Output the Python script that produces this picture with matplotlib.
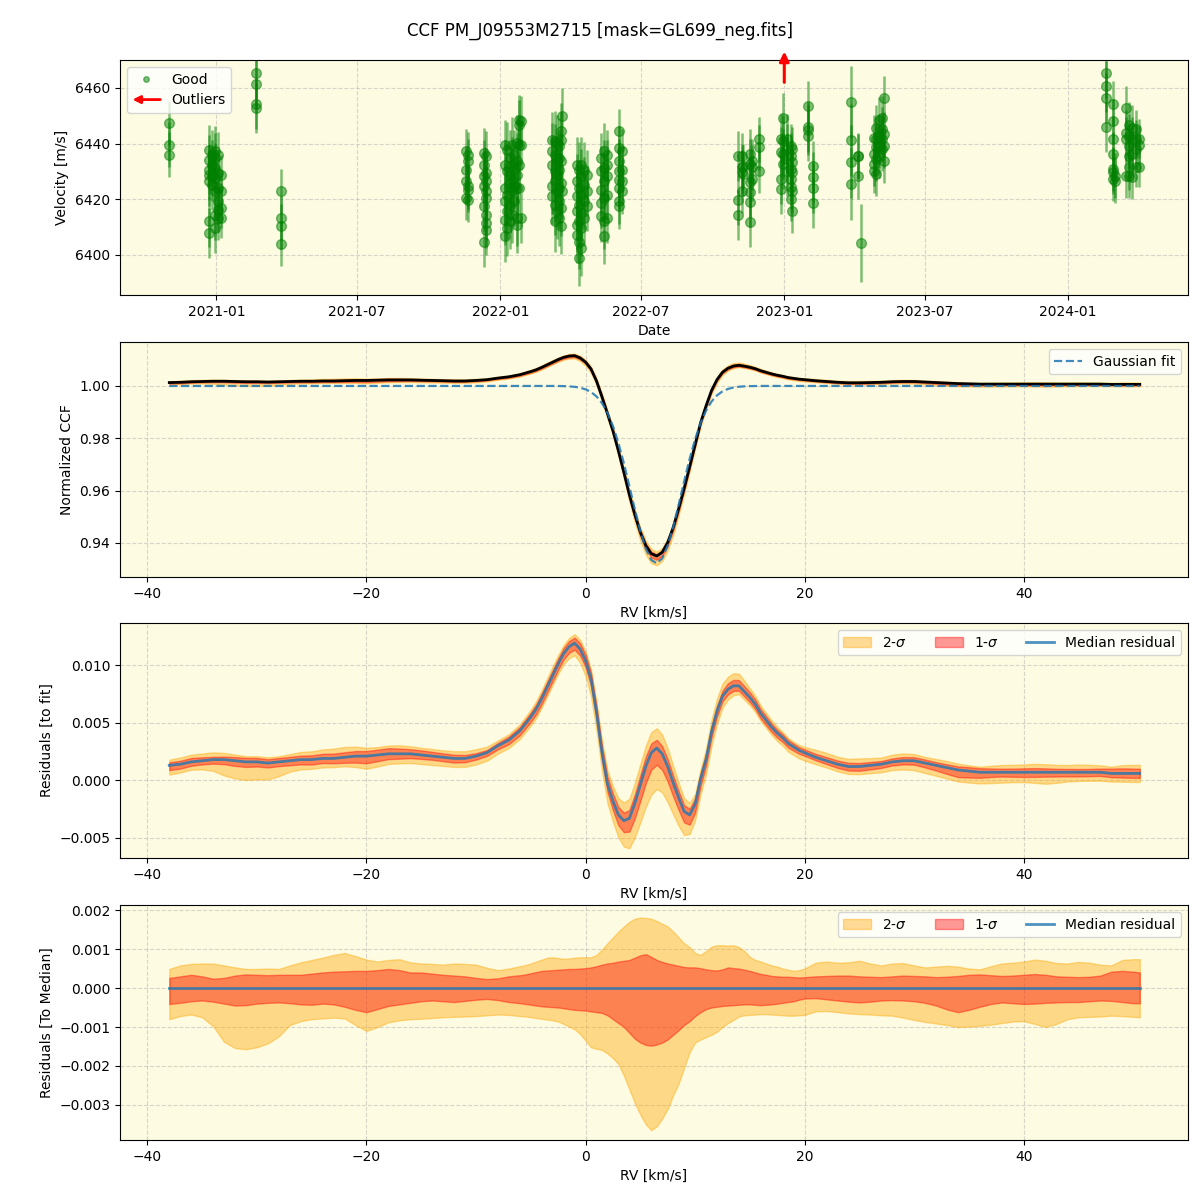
import numpy as np
import matplotlib
matplotlib.use("Agg")
import matplotlib.pyplot as plt
import matplotlib.dates as mdates
from matplotlib.lines import Line2D
from matplotlib.patches import Patch, FancyArrowPatch
from matplotlib.legend_handler import HandlerBase

# ---------------- Panel 1 data: RV time series (per night) ----------------
NIGHTS = ['2020-11-01', '2020-12-23', '2020-12-26', '2020-12-30', '2021-01-03', '2021-01-07',
          '2021-02-21', '2021-03-25', '2021-11-18', '2021-11-21', '2021-12-11', '2021-12-14',
          '2022-01-07', '2022-01-10', '2022-01-13', '2022-01-16', '2022-01-19', '2022-01-22',
          '2022-01-25', '2022-01-27', '2022-03-09', '2022-03-12', '2022-03-15', '2022-03-18',
          '2022-03-20', '2022-03-21', '2022-04-09', '2022-04-12', '2022-04-15', '2022-04-18',
          '2022-04-22', '2022-05-10', '2022-05-14', '2022-05-18', '2022-06-03', '2022-06-06',
          '2022-11-03', '2022-11-07', '2022-11-09', '2022-11-18', '2022-11-21', '2022-11-29',
          '2022-12-28', '2022-12-30', '2023-01-05', '2023-01-09', '2023-01-11', '2023-01-31',
          '2023-02-07', '2023-03-28', '2023-04-06', '2023-04-10', '2023-04-26', '2023-04-29',
          '2023-05-03', '2023-05-06', '2023-05-09', '2024-02-19', '2024-02-27', '2024-03-01',
          '2024-03-15', '2024-03-19', '2024-03-23', '2024-03-28', '2024-04-01']
NIGHT_VELOCITIES = [
    [6447.4, 6439.6, 6436.0],
    [6437.8, 6434.2, 6430.6, 6428.8, 6426.4, 6412.0, 6407.8],
    [6436.0, 6432.4, 6428.2, 6425.2],
    [6437.2, 6434.8, 6431.2, 6427.6, 6422.8, 6414.4, 6409.6],
    [6436.0, 6429.4, 6424.0, 6419.2, 6416.2, 6413.2],
    [6428.8, 6422.8, 6416.8, 6413.2],
    [6465.4, 6461.4, 6454.2, 6452.8],
    [6422.8, 6413.2, 6410.2, 6404.0],
    [6437.2, 6430.6, 6426.4, 6420.4],
    [6436.0, 6433.6, 6424.6, 6423.4, 6419.8],
    [6436.6, 6432.4, 6428.2, 6424.6, 6417.4, 6404.8],
    [6435.4, 6429.4, 6426.4, 6422.8, 6420.4, 6414.4, 6411.4, 6409.0],
    [6439.6, 6432.4, 6424.0, 6419.2, 6412.6, 6406.6],
    [6437.8, 6430.0, 6421.6, 6415.6, 6409.6],
    [6434.8, 6428.8, 6425.8, 6418.0, 6412.0],
    [6439.6, 6432.4, 6427.0, 6422.8, 6414.4],
    [6436.0, 6430.6, 6424.6, 6419.2],
    [6440.2, 6433.6, 6428.8, 6424.0, 6413.2, 6410.8],
    [6448.6, 6446.8, 6439.6, 6432.4, 6424.0],
    [6448.0, 6439.6, 6413.2],
    [6441.4, 6437.2, 6432.4, 6424.6, 6421.0],
    [6440.8, 6436.0, 6430.0, 6426.4, 6418.0, 6412.0],
    [6440.2, 6433.6, 6428.8, 6422.8, 6415.6],
    [6439.0, 6434.8, 6430.6, 6424.0, 6419.2, 6413.2],
    [6444.4, 6441.4, 6433.6, 6425.8, 6416.8, 6410.2],
    [6450.0, 6422.8],
    [6432.4, 6426.4, 6421.0, 6415.6, 6410.8, 6407.2],
    [6430.6, 6424.0, 6418.0, 6412.0, 6404.8, 6398.8],
    [6432.4, 6428.2, 6421.6, 6415.0, 6409.6, 6402.4],
    [6430.6, 6425.2, 6419.2, 6413.2],
    [6428.8, 6422.8, 6417.4],
    [6434.8, 6430.0, 6423.4, 6418.6, 6413.8],
    [6437.2, 6431.2, 6426.4, 6420.4, 6412.0, 6406.8],
    [6436.0, 6432.4, 6428.2, 6421.6, 6413.2],
    [6444.4, 6438.4, 6433.6, 6430.0, 6427.0, 6424.0, 6419.2, 6417.4],
    [6437.2, 6430.6, 6426.4, 6422.8],
    [6435.6, 6419.6, 6414.3],
    [6435.6, 6431.4, 6429.7, 6423.1],
    [6432.0, 6429.1],
    [6436.2, 6432.6, 6426.1, 6422.6, 6419.0, 6411.9],
    [6433.8, 6431.4, 6427.3],
    [6441.5, 6438.6, 6430.3],
    [6441.5, 6436.8, 6427.3, 6423.7],
    [6449.0, 6440.9, 6436.2, 6432.6],
    [6441.5, 6438.0, 6434.4, 6430.3],
    [6439.1, 6435.6, 6430.9, 6427.3, 6424.3, 6420.2],
    [6438.0, 6433.2, 6429.7, 6423.1, 6415.7],
    [6453.4, 6446.0, 6444.8, 6442.7],
    [6431.8, 6427.9, 6424.0, 6418.8],
    [6454.9, 6441.2, 6433.5, 6425.5],
    [6435.6, 6435.4, 6428.2],
    [6404.2],
    [6442.1, 6436.2, 6432.6, 6430.3],
    [6445.7, 6441.5, 6438.6, 6434.4, 6429.1],
    [6448.6, 6442.7, 6439.1, 6435.6],
    [6449.2, 6445.1, 6441.5, 6438.0],
    [6456.3, 6443.3, 6439.1, 6433.8],
    [6465.2, 6460.5, 6456.3, 6446.0],
    [6454.3, 6448.0, 6441.7, 6436.2, 6430.8, 6429.7, 6427.3],
    [6428.5, 6426.7],
    [6452.8, 6443.9, 6441.5, 6428.5],
    [6446.8, 6442.7, 6439.1, 6435.6, 6431.4, 6428.5],
    [6445.7, 6441.5, 6436.2, 6427.9],
    [6445.1, 6441.5, 6438.0, 6431.4],
    [6441.7, 6439.4, 6431.4],
]
NIGHT_ERRORS = [8, 9, 9, 9, 8, 7, 9, 8, 8, 8, 9, 9, 9, 10, 10, 10, 9, 10, 9, 9,
                10, 11, 10, 10, 10, 10, 10, 10, 10, 10, 9, 9, 10, 9, 8, 8,
                9, 8, 8, 9, 8, 8, 9, 9, 9, 8, 8, 9, 9, 13, 8, 14, 8, 8, 8, 8, 8,
                9, 8, 8, 8, 8, 8, 7, 7]
OUTLIER_DATES = ['2023-01-01']

# ---------------- CCF panels data ----------------
RV_KMS = np.concatenate([np.arange(-38.0, -5.5, 1.0),
                         np.arange(-5.5, 20.0, 0.5),
                         np.arange(20.0, 50.5, 1.0),
                         [50.6]])

GAUSS_FIT = np.array([1.0] * 33 +
    [1.0, 1.0, 1.0, 1.0, 1.0, 1.0, 0.99999,
     0.99993, 0.99984, 0.99966, 0.99932, 0.99872, 0.99768, 0.99600, 0.99344, 0.98973, 0.98468,
     0.97820, 0.97043, 0.96174, 0.95282, 0.94451, 0.93779, 0.93350, 0.93221, 0.93413, 0.93897,
     0.94608, 0.95458, 0.96352, 0.97207, 0.97960, 0.98580, 0.99058, 0.99403, 0.99640, 0.99793,
     0.99886, 0.99941, 0.99970, 0.99986, 0.99994, 0.99998,
     1.0, 1.0, 1.0, 1.0, 1.0, 1.0, 1.0, 1.0] +
    [1.0] * 32)

# median residual (units of 1e-4)
MEDIAN_RESID_E4 = np.array([
    13, 14, 16, 17, 18, 18, 17, 16, 16, 15,
    16, 17, 18, 18, 19, 19, 20, 21, 21, 22,
    23, 23, 23, 22, 21, 20, 19, 19, 21, 24,
    30, 35, 43,
    49, 55, 62, 71, 81, 91, 101, 110, 116, 119,
    114, 104, 88, 59, 24, -3, -18, -30, -35, -33,
    -20, -4, 12, 24, 28, 23, 12, -2, -15, -27,
    -30, -21, 1, 18, 42, 60, 73, 79, 82, 82,
    77, 72, 66, 58, 52, 46, 41, 37, 32, 29,
    26,
    24, 20, 17, 14, 12, 12, 13, 14, 16, 17,
    17, 15, 13, 11, 9, 8, 7, 7, 7, 7,
    7, 7, 7, 7, 7, 7, 7, 7, 6, 6,
    6, 6], dtype=float)

# spread of the CCF residuals around the median (units of 1e-4)
SIG2_HI_E4 = np.array([
    4.9, 5.8, 6.2, 6.3, 6.3, 5.8, 5.3, 4.9, 4.9, 5.0,
    4.9, 5.8, 6.6, 7.2, 7.8, 8.5, 9.0, 8.2, 7.3, 6.8,
    7.2, 7.4, 6.6, 6.3, 6.2, 6.0, 6.3, 6.2, 6.0, 5.2,
    4.6, 5.0, 5.6,
    5.9, 6.3, 6.8, 7.3, 7.8, 7.9, 7.7, 7.5, 7.6, 7.8,
    7.9, 7.9, 7.9, 8.5, 9.9, 11.5, 13.0, 14.5, 15.8, 17.0,
    17.8, 18.1, 18.0, 17.8, 17.2, 16.5, 15.8, 14.5, 13.0, 11.5,
    10.5, 9.0, 8.5, 9.5, 10.6, 11.0, 11.0, 10.9, 11.0, 10.5,
    9.5, 8.0, 7.2, 6.8, 6.3, 5.8, 5.5, 5.0, 4.7, 4.4,
    4.6,
    5.0, 6.5, 6.8, 6.5, 6.6, 7.0, 6.3, 5.8, 6.3, 6.4,
    5.8, 5.3, 5.5, 5.7, 5.5, 5.0, 4.8, 5.6, 6.3, 6.5,
    6.8, 7.3, 7.0, 6.4, 6.3, 6.7, 6.5, 6.0, 5.8, 7.2,
    7.4, 7.4])
SIG1_HI_E4 = np.array([
    2.6, 3.0, 3.4, 3.0, 2.4, 2.6, 3.2, 3.5, 3.4, 3.3,
    3.4, 3.4, 3.4, 3.7, 4.0, 4.2, 4.3, 4.4, 4.4, 4.6,
    4.9, 4.6, 4.0, 4.0, 3.7, 3.4, 3.2, 3.0, 2.6, 2.3,
    2.5, 3.0, 3.3,
    3.5, 3.8, 4.1, 4.4, 4.5, 4.6, 4.7, 4.8, 4.9, 4.9,
    5.0, 5.1, 5.3, 5.6, 6.0, 6.3, 6.5, 6.8, 7.0, 7.2,
    7.8, 8.4, 8.7, 8.0, 7.2, 6.7, 6.3, 6.0, 5.7, 5.4,
    5.3, 5.3, 5.1, 4.8, 4.6, 4.5, 4.8, 5.3, 5.1, 5.0,
    4.7, 4.4, 4.0, 3.6, 3.4, 3.1, 3.0, 2.9, 2.9, 2.8,
    2.7,
    2.8, 3.0, 3.1, 3.2, 3.2, 3.0, 2.9, 2.8, 3.0, 3.2,
    3.1, 3.0, 2.8, 2.9, 3.1, 3.4, 3.5, 3.3, 3.1, 3.2,
    3.4, 3.6, 3.4, 3.0, 2.9, 2.8, 2.9, 3.2, 4.2, 4.4,
    4.2, 4.0])
SIG1_LO_E4 = np.array([
    -4.1, -3.8, -3.4, -3.2, -3.5, -4.0, -4.5, -4.4, -4.0, -3.8,
    -3.7, -3.9, -4.2, -4.3, -4.0, -4.2, -4.8, -5.6, -6.2, -5.4,
    -4.6, -4.2, -3.8, -3.4, -3.2, -3.4, -3.6, -3.3, -3.0, -2.8,
    -3.1, -3.6, -3.9,
    -4.1, -4.3, -4.5, -4.7, -4.8, -4.9, -5.0, -5.2, -5.4, -5.6,
    -5.7, -5.8, -6.0, -6.2, -6.4, -7.0, -8.0, -9.0, -10.0, -11.5,
    -13.0, -14.0, -14.6, -14.8, -14.5, -14.0, -13.2, -12.0, -10.8, -9.5,
    -8.5, -7.2, -6.2, -5.4, -5.0, -4.8, -4.6, -4.5, -4.4, -4.3,
    -4.2, -4.2, -4.3, -4.4, -4.3, -4.2, -4.0, -3.8, -3.6, -3.4,
    -3.0,
    -2.7, -2.6, -2.9, -3.2, -3.5, -3.7, -3.5, -3.2, -3.1, -3.2,
    -3.4, -3.8, -4.5, -5.5, -6.2, -5.6, -4.8, -4.1, -3.7, -3.9,
    -4.1, -4.0, -3.8, -3.7, -3.6, -3.6, -3.4, -3.2, -3.3, -3.6,
    -3.9, -3.9])
SIG2_LO_E4 = np.array([
    -8.0, -7.2, -6.8, -7.5, -9.8, -13.8, -15.4, -15.7, -15.2, -14.2,
    -12.4, -9.5, -8.5, -8.0, -7.8, -7.6, -7.8, -9.5, -11.0, -10.0,
    -8.8, -8.3, -8.0, -7.9, -7.7, -7.5, -7.4, -7.3, -7.2, -7.0,
    -6.8, -6.9, -7.2,
    -7.3, -7.5, -7.7, -7.9, -8.1, -8.3, -8.6, -9.2, -9.9, -10.6,
    -11.8, -13.5, -15.2, -15.6, -15.9, -16.8, -18.0, -19.5, -22.5, -26.0,
    -29.5, -32.5, -35.0, -36.5, -35.5, -33.5, -31.0, -27.5, -24.5, -20.5,
    -16.5, -14.0, -13.2, -12.6, -12.0, -11.2, -10.0, -9.0, -8.2, -7.3,
    -7.0, -6.9, -6.8, -6.7, -6.7, -6.8, -6.9, -7.0, -7.1, -7.1,
    -7.0,
    -6.9, -6.0, -5.9, -6.2, -6.5, -6.7, -6.8, -7.0, -7.1, -7.6,
    -8.2, -8.7, -9.1, -9.5, -10.0, -9.9, -9.7, -9.4, -9.0, -8.6,
    -8.5, -9.2, -10.0, -9.2, -8.0, -7.5, -7.4, -7.3, -7.1, -7.2,
    -7.4, -7.5])

# ---------------- derived ----------------
median_resid = MEDIAN_RESID_E4 * 1e-4
s2hi, s1hi = SIG2_HI_E4 * 1e-4, SIG1_HI_E4 * 1e-4
s1lo, s2lo = SIG1_LO_E4 * 1e-4, SIG2_LO_E4 * 1e-4
ccf_median = GAUSS_FIT + median_resid

dates = np.array(np.repeat(NIGHTS, [len(v) for v in NIGHT_VELOCITIES]), dtype='datetime64[D]')
vels = np.concatenate([np.array(v, dtype=float) for v in NIGHT_VELOCITIES])
errs = np.repeat(np.array(NIGHT_ERRORS, dtype=float), [len(v) for v in NIGHT_VELOCITIES])

BG = '#fdfce2'
GRID = dict(linestyle='--', alpha=0.5)

fig = plt.figure(figsize=(12, 12), dpi=100)
L, W, H = 0.1, 0.89, 0.1958
ax1 = fig.add_axes([L, 0.7542, W, H])
ax2 = fig.add_axes([L, 0.5192, W, H])
ax3 = fig.add_axes([L, 0.2850, W, H])
ax4 = fig.add_axes([L, 0.0500, W, H])
for a in (ax1, ax2, ax3, ax4):
    a.set_facecolor(BG)
    a.grid(True, **GRID)
    a.set_axisbelow(True)

fig.suptitle('CCF PM_J09553M2715 [mask=GL699_neg.fits]', fontsize=12, y=0.982)

# ---- Panel 1 ----
ax1.errorbar(dates, vels, yerr=errs, fmt='o', color='green', alpha=0.5,
             ms=7, elinewidth=1.8, capsize=0)
ax1.set_xlim(np.datetime64('2020-08-30'), np.datetime64('2024-06-03'))
ax1.set_ylim(6385.6, 6470)
ax1.set_yticks([6400, 6420, 6440, 6460])
ax1.xaxis.set_major_locator(mdates.MonthLocator(bymonth=[1, 7]))
ax1.xaxis.set_major_formatter(mdates.DateFormatter('%Y-%m'))
ax1.set_xlabel('Date')
ax1.set_ylabel('Velocity [m/s]')
for d in OUTLIER_DATES:
    xd = mdates.date2num(np.datetime64(d))
    ax1.annotate('', xy=(xd, 1.036), xytext=(xd, 0.905),
                 xycoords=('data', 'axes fraction'), textcoords=('data', 'axes fraction'),
                 arrowprops=dict(arrowstyle='-|>', color='red', lw=2.2, mutation_scale=14,
                                 shrinkA=0, shrinkB=0),
                 annotation_clip=False)


class HandlerArrow(HandlerBase):
    def create_artists(self, legend, orig_handle, xdescent, ydescent, width, height, fontsize, trans):
        y = height / 2 - ydescent
        arr = FancyArrowPatch((width - xdescent, y), (-xdescent, y), arrowstyle='-|>',
                              mutation_scale=11, color='red', lw=2, shrinkA=0, shrinkB=0,
                              transform=trans)
        return [arr]


good_h = Line2D([], [], marker='o', ls='', color='green', alpha=0.5, markersize=4)
out_h = Line2D([], [], color='red')
ax1.legend([good_h, out_h], ['Good', 'Outliers'], loc='upper left',
           handler_map={out_h: HandlerArrow()})

# ---- Panel 2 ----
ax2.fill_between(RV_KMS, ccf_median + s2lo, ccf_median + s2hi, color='orange', alpha=0.4)
ax2.fill_between(RV_KMS, ccf_median + s1lo, ccf_median + s1hi, color='red', alpha=0.4)
ax2.plot(RV_KMS, ccf_median, color='black', lw=2)
ax2.plot(RV_KMS, GAUSS_FIT, color='C0', ls='--', lw=1.6, alpha=0.85, label='Gaussian fit')
ax2.set_xlim(-42.5, 55.0)
ax2.set_ylim(0.927, 1.0168)
ax2.set_yticks([0.94, 0.96, 0.98, 1.00])
ax2.set_xlabel('RV [km/s]')
ax2.set_ylabel('Normalized CCF')
ax2.legend(loc='upper right')

# ---- Panel 3 ----
ax3.fill_between(RV_KMS, median_resid + s2lo, median_resid + s2hi, color='orange', alpha=0.4,
                 label='2-$\\sigma$')
ax3.fill_between(RV_KMS, median_resid + s1lo, median_resid + s1hi, color='red', alpha=0.4,
                 label='1-$\\sigma$')
ax3.plot(RV_KMS, median_resid, color='C0', lw=2, alpha=0.8, label='Median residual')
ax3.set_xlim(-42.5, 55.0)
ax3.set_ylim(-0.00674, 0.01365)
ax3.set_yticks([-0.005, 0.0, 0.005, 0.010])
ax3.set_xlabel('RV [km/s]')
ax3.set_ylabel('Residuals [to fit]')
ax3.legend(loc='upper right', ncol=3)

# ---- Panel 4 ----
zero = np.zeros_like(RV_KMS)
ax4.fill_between(RV_KMS, s2lo, s2hi, color='orange', alpha=0.4, label='2-$\\sigma$')
ax4.fill_between(RV_KMS, s1lo, s1hi, color='red', alpha=0.4, label='1-$\\sigma$')
ax4.plot(RV_KMS, zero, color='C0', lw=2, alpha=0.8, label='Median residual')
ax4.set_xlim(-42.5, 55.0)
ax4.set_ylim(-0.0039, 0.00213)
ax4.set_yticks([-0.003, -0.002, -0.001, 0.0, 0.001, 0.002])
ax4.set_xlabel('RV [km/s]')
ax4.set_ylabel('Residuals [To Median]')
ax4.legend(loc='upper right', ncol=3)

fig.savefig('out.png', dpi=100)
